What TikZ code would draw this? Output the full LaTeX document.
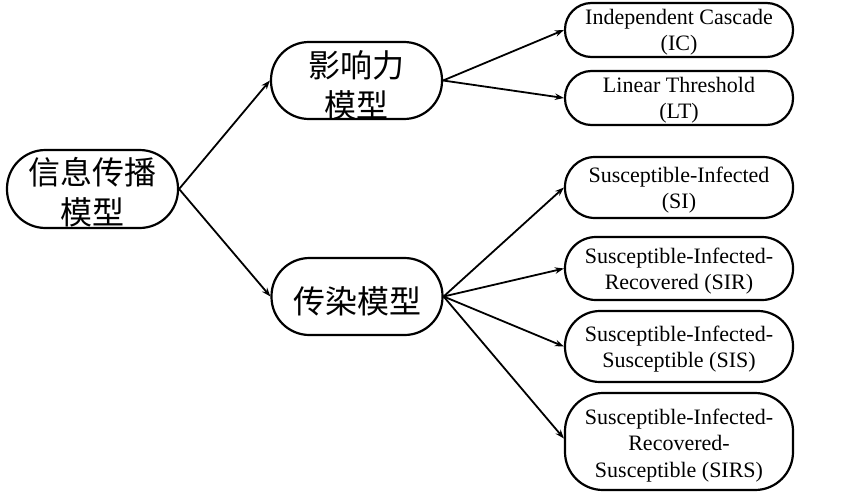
\documentclass[tikz,border=0pt]{standalone}
\usepackage{fontspec}
\setmainfont{Liberation Serif}
\newfontfamily\cjk{Noto Sans CJK SC}
\usetikzlibrary{arrows.meta}
\newcommand{\lowtxt}[2]{\raisebox{-#1}[0pt][0pt]{\begin{tabular}{@{}c@{}}#2\end{tabular}}}
\tikzset{
  box/.style={draw, line width=2.2pt, inner sep=0pt, fill=white},
  cn/.style={box, font=\cjk\fontsize{32}{40}\selectfont},
  en/.style={box, font=\fontsize{22}{26.5}\selectfont},
  conn/.style={line width=1.8pt, -{Stealth[length=9pt,width=6.5pt]}}
}
\begin{document}
\begin{tikzpicture}[x=1pt,y=-1pt]
\useasboundingbox (0,0) rectangle (853,495);
% level 0
\node[cn, minimum width=171, minimum height=78, rounded corners=38.5] (root) at (92.5,189) {\lowtxt{14pt}{信息传播\\模型}};
% level 1
\node[cn, minimum width=171, minimum height=77, rounded corners=38] (inf) at (356.5,80.5) {\lowtxt{15.5pt}{影响力\\模型}};
\node[cn, minimum width=171, minimum height=77, rounded corners=38] (epi) at (357,296.5) {\lowtxt{15.5pt}{传染模型}};
% level 2
\node[en, minimum width=228, minimum height=54, rounded corners=26.5] (ic) at (679,30) {\lowtxt{7.5pt}{Independent Cascade\\(IC)}};
\node[en, minimum width=228, minimum height=54, rounded corners=26.5] (lt) at (679,98) {\lowtxt{7.5pt}{Linear Threshold\\(LT)}};
\node[en, minimum width=228, minimum height=61, rounded corners=30] (si) at (679,187.5) {\lowtxt{8pt}{Susceptible-Infected\\(SI)}};
\node[en, minimum width=228, minimum height=63, rounded corners=31] (sir) at (679,268.5) {\lowtxt{8pt}{Susceptible-Infected-\\Recovered (SIR)}};
\node[en, minimum width=228, minimum height=71, rounded corners=35] (sis) at (679,346.5) {\lowtxt{8pt}{Susceptible-Infected-\\Susceptible (SIS)}};
\node[en, minimum width=228, minimum height=97, rounded corners=38] (sirs) at (679,441.5) {\lowtxt{9pt}{Susceptible-Infected-\\Recovered-\\Susceptible (SIRS)}};
% connectors
\draw[conn] (root.east) -- (inf.west);
\draw[conn] (root.east) -- (epi.west);
\draw[conn] (inf.east) -- (ic.west);
\draw[conn] (inf.east) -- (lt.west);
\draw[conn] (epi.east) -- (si.west);
\draw[conn] (epi.east) -- (sir.west);
\draw[conn] (epi.east) -- (sis.west);
\draw[conn] (epi.east) -- ([yshift=3pt]sirs.west);
\end{tikzpicture}
\end{document}
